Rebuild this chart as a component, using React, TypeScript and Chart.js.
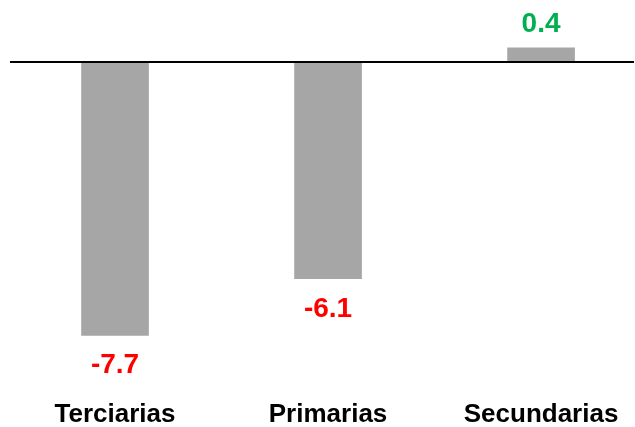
import React, { useEffect, useRef } from "react";
import { Chart, registerables } from "chart.js";

Chart.register(...registerables);

const categories = ["Terciarias", "Primarias", "Secundarias"];
const values = [-7.7, -6.1, 0.4];

const FONT = "'Liberation Sans', Arial, Helvetica, sans-serif";

export default function App() {
  const ref = useRef<HTMLCanvasElement>(null);

  useEffect(() => {
    document.body.style.margin = "0";
    const zeroLine = {
      id: "zeroLine",
      afterDatasetsDraw(chart: any) {
        const { ctx, chartArea } = chart;
        const y = chart.scales.y.getPixelForValue(0);
        ctx.save();
        ctx.strokeStyle = "#000000";
        ctx.lineWidth = 2;
        ctx.beginPath();
        ctx.moveTo(chartArea.left + 10, y);
        ctx.lineTo(chartArea.right - 1, y);
        ctx.stroke();
        ctx.restore();
      },
    };
    const labelsPlugin = {
      id: "labelsPlugin",
      afterDatasetsDraw(chart: any) {
        const ctx = chart.ctx;
        const meta = chart.getDatasetMeta(0);
        const xs = chart.scales.x;
        ctx.save();
        ctx.textAlign = "center";
        ctx.textBaseline = "alphabetic";
        ctx.font = `bold 28px ${FONT}`;
        meta.data.forEach((bar: any, i: number) => {
          const v = values[i];
          const { x, y } = bar.getProps(["x", "y"], true);
          if (v < 0) {
            ctx.fillStyle = "#FF0000";
            ctx.fillText(v.toFixed(1), x, y + 38);
          } else {
            ctx.fillStyle = "#00B050";
            ctx.fillText(v.toFixed(1), x, y - 16);
          }
        });
        ctx.font = `bold 26px ${FONT}`;
        ctx.fillStyle = "#000000";
        categories.forEach((c, i) => {
          ctx.fillText(c, xs.getPixelForValue(i), chart.chartArea.bottom + 32);
        });
        ctx.restore();
      },
    };

    const chart = new Chart(ref.current!, {
      type: "bar",
      data: {
        datasets: [
          {
            data: values.map((v, i) => ({ x: i, y: v })),
            backgroundColor: "#A6A6A6",
            borderWidth: 0,
            barThickness: 67,
          },
        ],
      },
      options: {
        animation: false,
        responsive: false,
        layout: { padding: { left: 0, right: 0, top: 0, bottom: 37 } },
        plugins: { legend: { display: false }, tooltip: { enabled: false } },
        scales: {
          x: {
            type: "linear",
            display: false,
            offset: false,
            min: -0.54,
            max: 2.441,
            afterBuildTicks: (s: any) => {
              s.ticks = categories.map((_, i) => ({ value: i }));
            },
          },
          y: { display: false, min: -9.239, max: 1.746 },
        },
      },
      plugins: [zeroLine, labelsPlugin],
    } as any);
    return () => chart.destroy();
  }, []);

  return (
    <div style={{ width: 635, height: 427 }}>
      <canvas ref={ref} width={635} height={427} style={{ display: "block" }} />
    </div>
  );
}
